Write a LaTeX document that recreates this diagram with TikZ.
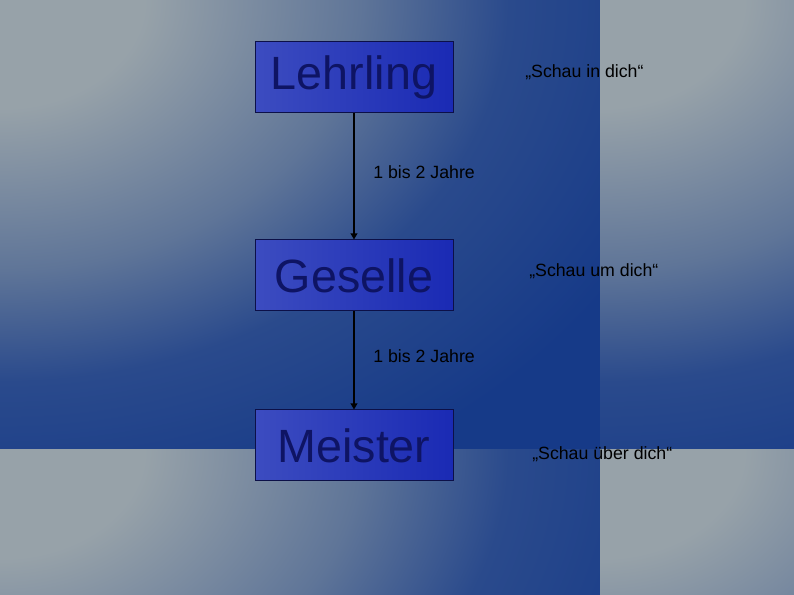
\documentclass[tikz,border=0pt]{standalone}
\usepackage{fontspec}
\setmainfont{Liberation Sans}
\usetikzlibrary{arrows.meta}

\definecolor{tilegray}{RGB}{151,162,169}
\definecolor{tilemid}{RGB}{95,117,152}
\definecolor{tileblue}{RGB}{42,74,140}
\definecolor{tiledeep}{RGB}{22,58,136}
\definecolor{boxleft}{RGB}{60,76,192}
\definecolor{boxright}{RGB}{26,42,180}
\definecolor{boxline}{RGB}{12,16,72}
\definecolor{boxtext}{RGB}{14,20,100}

\pgfdeclareradialshading{tileshade}{\pgfpoint{0bp}{0bp}}{color(0bp)=(tilegray); color(3bp)=(tilegray); color(7.5bp)=(tilemid); color(10.6bp)=(tileblue); color(15bp)=(tiledeep); color(50bp)=(tiledeep)}

\begin{document}
\begin{tikzpicture}[x=0.75pt,y=-0.75pt,
  stage/.style={draw=boxline, line width=0.75pt, left color=boxleft, right color=boxright,
    minimum width=148.5pt, minimum height=53.25pt, inner sep=0pt, text=boxtext,
    font=\fontsize{35}{42}\selectfont},
  note/.style={inner sep=0pt, anchor=west, font=\fontsize{13.3}{16}\selectfont},
  flow/.style={line width=0.9pt, -{Triangle[width=5pt,length=4.5pt]}}]
\useasboundingbox (0,0) rectangle (794,595);
\clip (0,0) rectangle (794,595);
\fill[tiledeep] (0,0) rectangle (794,595);
% background tiles
\foreach \tx/\ty in {0/0, 600/0, 0/450, 600/450} {
  \begin{scope}
    \clip (\tx,\ty) rectangle ++(600,450);
    \shade[shading=tileshade] (\tx-1200,\ty-900) rectangle (\tx+1200,\ty+900);
  \end{scope}
}

% stages
\node[stage] (lehrling) at (354,77.5) {Lehrling};
\node[stage] (geselle) at (354,275.5) {Geselle};
\node[stage] (meister) at (354,445.5) {Meister};

\draw[flow] (lehrling) -- node[note, xshift=14pt, yshift=3pt] {1 bis 2 Jahre} (geselle);
\draw[flow] (geselle) -- node[note, xshift=14pt, yshift=3pt] {1 bis 2 Jahre} (meister);

% mottos
\node[note] (inner) at (525,72) {„Schau in dich“};
\node[note] (around) at (529,271) {„Schau um dich“};
\node[note] (above) at (532,454) {„Schau über dich“};
\end{tikzpicture}
\end{document}
